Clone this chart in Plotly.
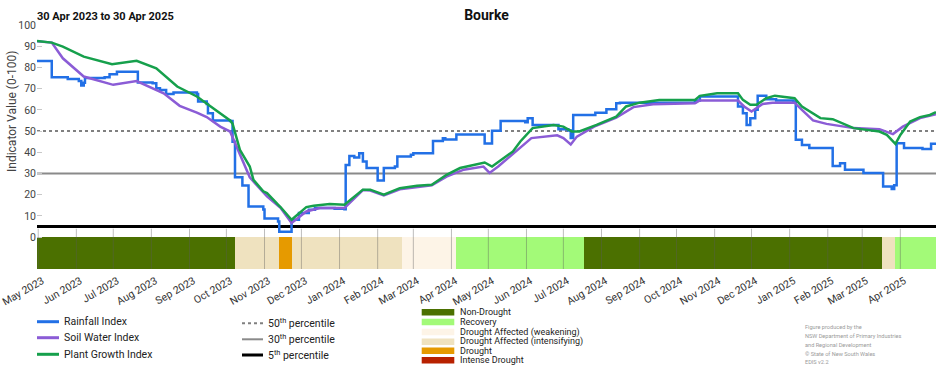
import plotly.graph_objects as go
import pandas as pd

# ---------------- data ----------------
rain_dates = ["2023-04-30","2023-05-12","2023-05-25","2023-06-03","2023-06-05","2023-06-07","2023-06-08",
              "2023-06-24","2023-06-28","2023-07-04","2023-07-21","2023-08-02","2023-08-05","2023-08-08",
              "2023-08-13","2023-08-19","2023-09-07","2023-09-08","2023-09-15","2023-09-16","2023-09-20",
              "2023-10-04","2023-10-06","2023-10-08","2023-10-14","2023-10-19","2023-10-31","2023-11-01",
              "2023-11-12","2023-11-13","2023-11-23","2023-11-29","2023-12-07","2023-12-12","2023-12-28",
              "2024-01-05","2024-01-06","2024-01-09","2024-01-13","2024-01-17","2024-01-20","2024-01-23",
              "2024-02-01","2024-02-06","2024-02-15","2024-02-17","2024-02-28","2024-03-01","2024-03-17",
              "2024-03-25","2024-03-27","2024-04-05","2024-04-28","2024-05-04","2024-05-11","2024-05-31",
              "2024-06-02","2024-06-06","2024-06-27","2024-07-05","2024-07-07","2024-07-09","2024-07-27",
              "2024-08-05","2024-08-13","2024-08-16","2024-10-16","2024-10-20","2024-11-20","2024-11-24",
              "2024-11-27","2024-11-30","2024-12-04","2024-12-06","2024-12-13","2024-12-21","2025-01-04",
              "2025-01-06","2025-01-11","2025-01-17","2025-02-05","2025-02-11","2025-02-15","2025-03-02",
              "2025-03-18","2025-03-25","2025-03-27","2025-03-29","2025-04-04","2025-04-19","2025-04-26",
              "2025-04-30"]
rain_vals = [83.0,75.4,74.6,73.6,71.5,72.8,75.0,
             75.4,76.8,78.0,72.9,72.6,70.2,69.4,
             67.5,68.2,67.5,63.9,62.8,58.4,55.0,
             54.8,45.0,28.2,24.4,14.4,13.1,8.8,
             7.4,2.6,8.2,11.4,12.9,13.7,13.4,
             13.2,34.0,38.2,37.6,39.6,35.7,32.6,
             26.7,32.6,33.3,38.0,38.8,39.6,45.3,
             46.6,46.0,48.4,44.2,50.2,54.8,54.2,
             56.1,52.9,50.9,50.3,46.7,57.6,58.7,
             60.3,63.1,63.4,64.4,66.3,61.6,58.4,
             52.9,56.1,60.0,66.7,65.0,64.4,63.9,
             45.9,43.5,42.0,33.6,34.9,31.8,30.2,
             23.9,22.7,24.5,44.3,42.0,41.5,44.0,
             44.0]

soil_dates = ["2023-04-30","2023-05-12","2023-05-21","2023-06-07","2023-07-01","2023-07-20","2023-08-11",
              "2023-08-24","2023-09-07","2023-09-15","2023-09-26","2023-10-04","2023-10-20","2023-11-03",
              "2023-11-14","2023-11-23","2023-12-05","2023-12-16","2024-01-05","2024-01-20","2024-01-26",
              "2024-02-06","2024-02-19","2024-03-04","2024-03-16","2024-03-28","2024-04-11","2024-04-27",
              "2024-05-02","2024-05-09","2024-06-05","2024-06-26","2024-07-01","2024-07-07","2024-07-12",
              "2024-07-26","2024-08-13","2024-08-27","2024-09-12","2024-10-16","2024-10-20","2024-11-20",
              "2024-11-25","2024-12-01","2024-12-10","2024-12-18","2025-01-05","2025-01-11","2025-01-20",
              "2025-01-31","2025-02-22","2025-03-15","2025-03-26","2025-04-03","2025-04-17","2025-04-30"]
soil_vals = [92.4,91.7,84.3,75.7,71.8,73.6,67.8,
             61.9,58.7,56.6,52.1,49.8,28.2,19.2,
             13.9,6.7,12.1,13.7,13.7,22.2,22.0,
             19.7,22.6,23.8,24.5,28.5,31.8,33.3,
             30.3,33.3,46.7,48.0,46.7,43.7,47.4,
             52.1,56.4,61.3,62.7,63.1,64.4,64.4,
             61.6,59.2,62.8,63.4,63.4,60.0,55.0,
             53.4,51.4,50.9,48.6,52.1,56.1,58.0]

plant_dates = ["2023-04-30","2023-05-12","2023-05-21","2023-06-07","2023-06-30","2023-07-20","2023-08-05",
               "2023-08-22","2023-09-07","2023-09-20","2023-10-04","2023-10-06","2023-10-12","2023-10-20",
               "2023-10-23","2023-10-31","2023-11-03","2023-11-12","2023-11-14","2023-11-23","2023-12-01",
               "2023-12-05","2023-12-11","2023-12-24","2024-01-05","2024-01-20","2024-01-26","2024-02-06",
               "2024-02-19","2024-03-04","2024-03-16","2024-03-28","2024-04-08","2024-04-13","2024-04-28",
               "2024-05-04","2024-05-10","2024-05-21","2024-05-27","2024-06-06","2024-06-23","2024-07-01",
               "2024-07-08","2024-07-14","2024-07-28","2024-08-13","2024-08-21","2024-09-01","2024-09-17",
               "2024-10-16","2024-10-20","2024-11-03","2024-11-20","2024-11-24","2024-11-30","2024-12-05",
               "2024-12-13","2024-12-20","2025-01-05","2025-01-11","2025-01-26","2025-02-05","2025-02-22",
               "2025-03-15","2025-03-21","2025-03-28","2025-04-01","2025-04-09","2025-04-17","2025-04-25",
               "2025-04-30"]
plant_vals = [92.5,91.7,89.8,85.1,81.5,83.1,79.6,
              71.0,66.3,61.0,55.0,53.5,41.2,33.3,
              27.0,21.6,20.8,15.3,14.2,8.2,12.1,
              14.2,14.8,15.6,15.3,22.4,22.4,20.0,
              23.1,24.2,24.7,29.4,32.6,33.3,35.2,
              33.3,35.7,40.4,45.1,51.4,52.9,52.1,
              49.8,49.8,52.9,56.8,61.6,63.4,64.7,
              64.7,66.6,67.8,67.8,64.7,62.4,62.4,
              65.5,66.7,65.5,61.6,56.1,55.6,51.4,
              49.8,48.2,44.0,48.2,54.5,56.6,57.6,
              58.9]

percentile_names = ["50th percentile", "30th percentile", "5th percentile"]
percentile_vals = [50, 30, 5]

drought_starts = ["2023-04-30","2023-10-08","2023-11-13","2023-11-23","2024-02-21",
                  "2024-04-05","2024-07-18","2025-03-17","2025-03-28"]
drought_ends = ["2023-10-08","2023-11-13","2023-11-23","2024-02-21","2024-04-05",
                "2024-07-18","2025-03-17","2025-03-28","2025-04-30"]
drought_cats = ["Non-Drought","Drought Affected (intensifying)","Drought","Drought Affected (intensifying)",
                "Drought Affected (weakening)","Recovery","Non-Drought","Drought Affected (intensifying)",
                "Recovery"]

category_names = ["Non-Drought","Recovery","Drought Affected (weakening)",
                  "Drought Affected (intensifying)","Drought","Intense Drought"]
category_colors = ["#4b7000","#a3fa78","#fdf4e7","#efe2bf","#e69a00","#b82100"]

y_ticks = [0,10,20,30,40,50,60,70,80,90,100]
x_start, x_end = "2023-04-30", "2025-04-30"

# ---------------- styling ----------------
FONT = "Roboto, 'Liberation Sans', sans-serif"
C_RAIN, C_SOIL, C_PLANT = "#2270e6", "#8b5cd6", "#16a04c"
PCT_STYLES = [dict(color="#808080", width=2, dash="dot"),
              dict(color="#8a8a8a", width=2, dash="solid"),
              dict(color="#000000", width=3, dash="solid")]
BAND_BOTTOM, BAND_TOP = -15, 0

W, H = 952, 370
# plot area in window pixels
PL, PR, PT, PB = 37, 936, 25, 269
def px(x): return (x - PL) / (PR - PL)
def py(y): return (PB - y) / (PB - PT)

fig = go.Figure()

# drought band
cmap = dict(zip(category_names, category_colors))
s = pd.to_datetime(drought_starts)
e = pd.to_datetime(drought_ends)
mids = s + (e - s) / 2
widths = [(b - a).total_seconds() * 1000 for a, b in zip(s, e)]
fig.add_trace(go.Bar(x=mids, y=[BAND_TOP - BAND_BOTTOM] * len(mids), base=BAND_BOTTOM, width=widths,
                     marker=dict(color=[cmap[c] for c in drought_cats], line=dict(width=0)),
                     hoverinfo="skip"))

# percentile lines
for v, st in zip(percentile_vals, PCT_STYLES):
    fig.add_trace(go.Scatter(x=[x_start, x_end], y=[v, v], mode="lines", line=st, hoverinfo="skip"))

fig.add_trace(go.Scatter(x=rain_dates, y=rain_vals, mode="lines", line=dict(color=C_RAIN, width=2.5, shape="hv"),
                         name="Rainfall Index"))
fig.add_trace(go.Scatter(x=soil_dates, y=soil_vals, mode="lines", line=dict(color=C_SOIL, width=2.5),
                         name="Soil Water Index"))
fig.add_trace(go.Scatter(x=plant_dates, y=plant_vals, mode="lines", line=dict(color=C_PLANT, width=2.5),
                         name="Plant Growth Index"))

shapes = []
# month gridlines in the drought band
for d in pd.date_range("2023-05-01", "2025-04-01", freq="MS"):
    shapes.append(dict(type="line", xref="x", yref="y", x0=d, x1=d, y0=BAND_BOTTOM, y1=4,
                       line=dict(color="rgba(90,90,90,0.4)", width=1), layer="above"))

annotations = []
# legend group 1
leg1 = [("Rainfall Index", C_RAIN), ("Soil Water Index", C_SOIL), ("Plant Growth Index", C_PLANT)]
for (name, col), yy in zip(leg1, [321.7, 337.7, 354.3]):
    shapes.append(dict(type="line", xref="paper", yref="paper", x0=px(37), x1=px(59), y0=py(yy), y1=py(yy),
                       line=dict(color=col, width=3)))
    annotations.append(dict(xref="paper", yref="paper", x=px(62), y=py(yy), text=name, showarrow=False,
                            xanchor="left", yanchor="middle", font=dict(size=10.5, color="#222")))
# legend group 2
leg2 = ["50<sup>th</sup> percentile", "30<sup>th</sup> percentile", "5<sup>th</sup> percentile"]
for txt, st, yy in zip(leg2, PCT_STYLES, [323.3, 339.3, 355.0]):
    shapes.append(dict(type="line", xref="paper", yref="paper", x0=px(242), x1=px(263), y0=py(yy), y1=py(yy),
                       line=dict(color=st["color"], width=st["width"], dash=st["dash"])))
    annotations.append(dict(xref="paper", yref="paper", x=px(265.5), y=py(yy), text=txt, showarrow=False,
                            xanchor="left", yanchor="middle", font=dict(size=10.5, color="#222")))
# legend group 3
for name, col, yy in zip(category_names, category_colors, [312.2, 322.0, 332.0, 341.7, 350.7, 360.2]):
    shapes.append(dict(type="rect", xref="paper", yref="paper", x0=px(421.7), x1=px(454.3),
                       y0=py(yy + 3.3), y1=py(yy - 3.3), fillcolor=col, line=dict(width=0)))
    annotations.append(dict(xref="paper", yref="paper", x=px(458), y=py(yy), text=name, showarrow=False,
                            xanchor="left", yanchor="middle", font=dict(size=9, color="#222")))
# footnote
foot = ["Figure produced by the", "NSW Department of Primary Industries", "and Regional Development",
        "© State of New South Wales", "EDIS v2.2"]
for txt, yy in zip(foot, [327.3, 336.3, 345.0, 353.7, 361.8]):
    annotations.append(dict(xref="paper", yref="paper", x=px(803), y=py(yy), text=txt, showarrow=False,
                            xanchor="left", yanchor="middle", font=dict(size=5.6, color="#9a9a9a")))
# subtitle and y title
annotations.append(dict(xref="paper", yref="paper", x=0, y=py(17), text="<b>30 Apr 2023 to 30 Apr 2025</b>",
                        showarrow=False, xanchor="left", yanchor="middle", xshift=-2,
                        font=dict(size=11, color="#111")))
annotations.append(dict(xref="paper", yref="paper", x=px(12), y=py(112), text="Indicator Value (0-100)",
                        textangle=-90, showarrow=False, xanchor="center", yanchor="middle",
                        font=dict(size=12, color="#444")))

fig.update_layout(
    width=W, height=H,
    margin=dict(l=PL, r=W - PR, t=PT, b=H - PB, autoexpand=False),
    paper_bgcolor="white", plot_bgcolor="white",
    showlegend=False,
    font=dict(family=FONT, size=10.5, color="#333"),
    title=dict(text="<b>Bourke</b>", x=0.5, xref="paper", xanchor="center",
               y=1 - 15 / H, yref="container", yanchor="middle", font=dict(size=14, color="#111")),
    xaxis=dict(type="date", range=[x_start, x_end], tick0="2023-05-01", dtick="M1", tickformat="%b %Y",
               tickangle=-30, showgrid=False, zeroline=False, showline=False, ticks="",
               automargin=False, ticklabeloverflow="allow", ticklabelshift=4, ticklabelstandoff=3,
               tickfont=dict(size=10.5, color="#333")),
    yaxis=dict(range=[BAND_BOTTOM, 100], tickvals=y_ticks, showgrid=False, zeroline=False, showline=False,
               automargin=False,
               ticks="inside", ticklen=5, tickcolor="#c8c8c8", tickfont=dict(size=10.5, color="#444")),
    shapes=shapes, annotations=annotations, bargap=0,
)

fig.write_html("out.html", config={"displayModeBar": False},
               post_script="document.body.style.margin='0px';")
